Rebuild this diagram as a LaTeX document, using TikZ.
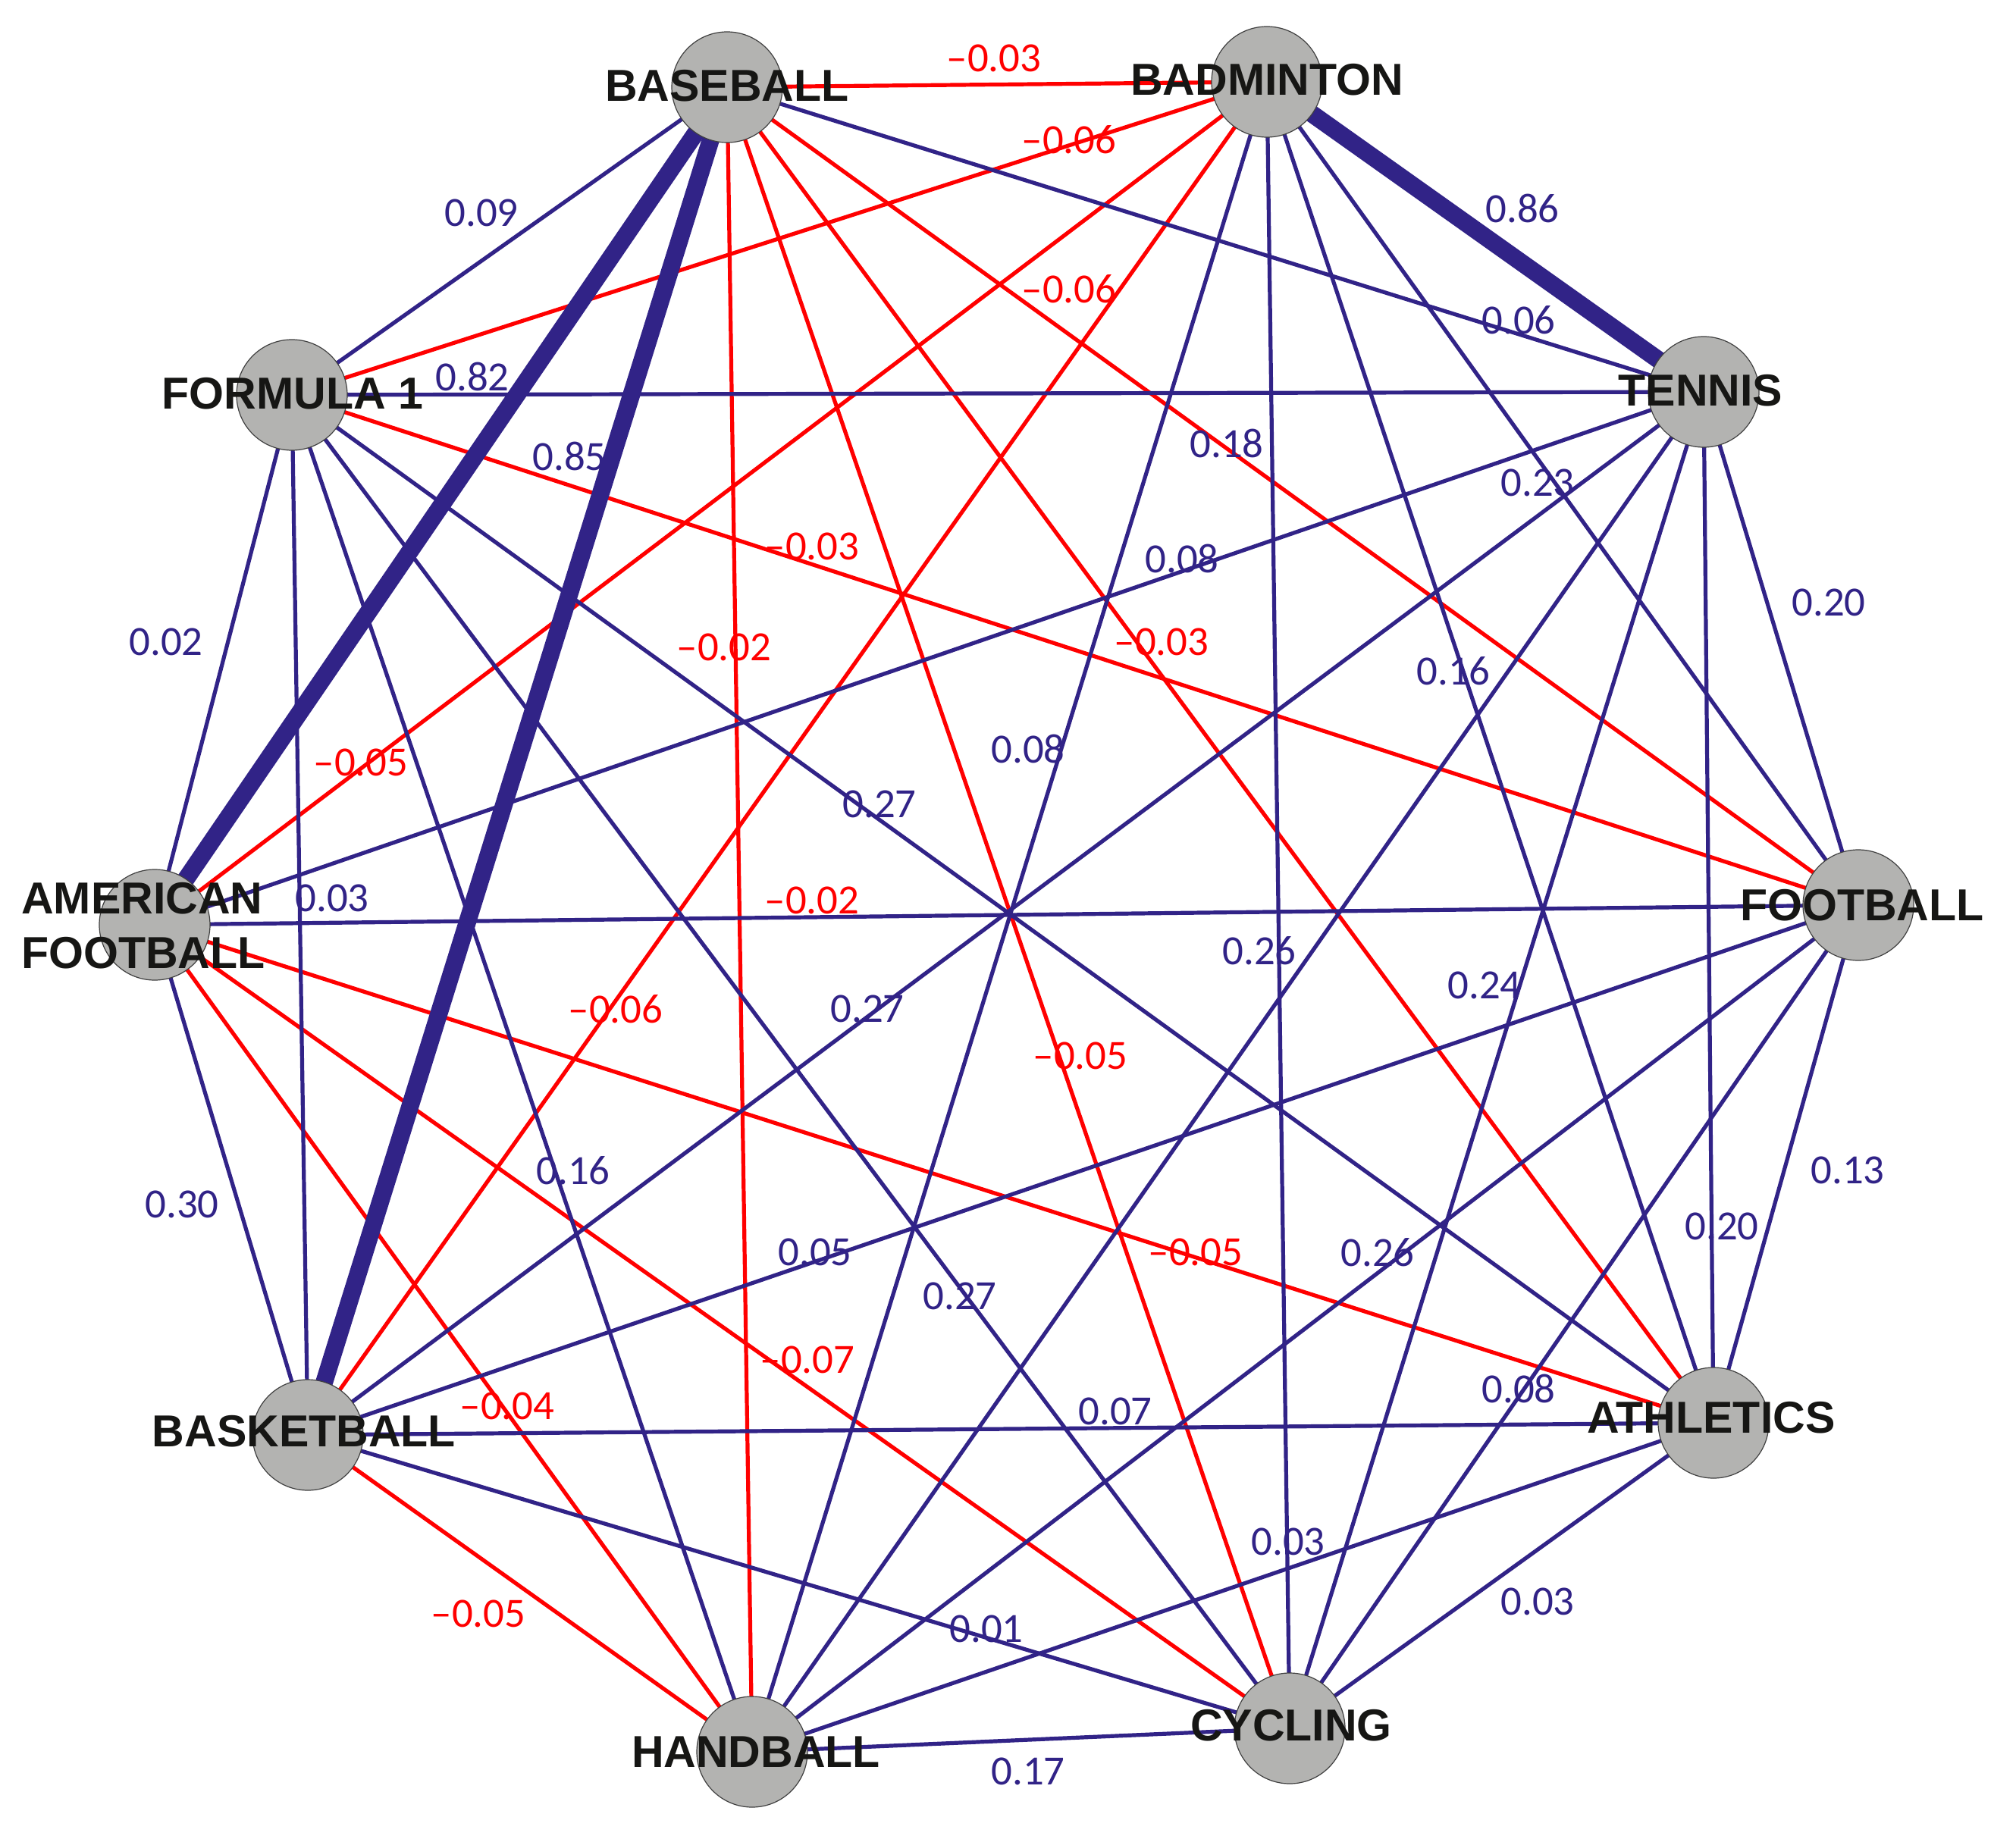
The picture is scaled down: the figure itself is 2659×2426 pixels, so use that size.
\documentclass[tikz,border=0pt]{standalone}
\usepackage{fontspec}
\newfontfamily\nodefont{Liberation Sans}
\newfontfamily\numfont{Carlito}
\definecolor{eblue}{RGB}{49,35,135}
\definecolor{ered}{RGB}{255,0,0}
\definecolor{ngray}{RGB}{179,179,177}
\definecolor{ntext}{RGB}{22,22,20}
\pgfdeclarelayer{bg}
\pgfsetlayers{bg,main}
\begin{document}
\begin{tikzpicture}[x=0.1mm,y=-0.1mm,
  sport/.style={circle,fill=ngray,draw=black!75,line width=0.12mm,minimum size=14.6mm,inner sep=0},
  sname/.style={font=\nodefont\bfseries\fontsize{16.8pt}{20.5pt}\selectfont,text=ntext,inner sep=0,align=left},
  posedge/.style={eblue,line width=0.52mm},
  negedge/.style={ered,line width=0.52mm},
  strongedge/.style={eblue,line width=2.3mm},
  plab/.style={font=\numfont\fontsize{15.6pt}{18pt}\selectfont,text=eblue,inner sep=0},
  nlab/.style={font=\numfont\fontsize{15.6pt}{18pt}\selectfont,text=ered,inner sep=0}]
\useasboundingbox (0,0) rectangle (2659,2426);

% sport circles
\node[sport] (BB) at (959,115) {};
\node[sport] (BD) at (1671,108) {};
\node[sport] (TE) at (2247,517) {};
\node[sport] (FB) at (2451,1194) {};
\node[sport] (AT) at (2260,1877) {};
\node[sport] (CY) at (1701,2280) {};
\node[sport] (HB) at (992,2311) {};
\node[sport] (BK) at (406,1893) {};
\node[sport] (AF) at (204,1220) {};
\node[sport] (F1) at (385,521) {};

\begin{pgfonlayer}{bg}
\fill[white] (0,0) rectangle (2659,2426);
% negative correlations
\draw[negedge] (BB.center) -- (BD.center);
\draw[negedge] (BB.center) -- (FB.center);
\draw[negedge] (BB.center) -- (AT.center);
\draw[negedge] (BB.center) -- (CY.center);
\draw[negedge] (BB.center) -- (HB.center);
\draw[negedge] (BD.center) -- (BK.center);
\draw[negedge] (BD.center) -- (AF.center);
\draw[negedge] (BD.center) -- (F1.center);
\draw[negedge] (FB.center) -- (F1.center);
\draw[negedge] (AT.center) -- (AF.center);
\draw[negedge] (CY.center) -- (AF.center);
\draw[negedge] (HB.center) -- (BK.center);
\draw[negedge] (HB.center) -- (AF.center);
% positive correlations
\draw[posedge] (BB.center) -- (TE.center);
\draw[posedge] (BB.center) -- (F1.center);
\draw[posedge] (BD.center) -- (FB.center);
\draw[posedge] (BD.center) -- (AT.center);
\draw[posedge] (BD.center) -- (CY.center);
\draw[posedge] (BD.center) -- (HB.center);
\draw[posedge] (TE.center) -- (FB.center);
\draw[posedge] (TE.center) -- (AT.center);
\draw[posedge] (TE.center) -- (CY.center);
\draw[posedge] (TE.center) -- (HB.center);
\draw[posedge] (TE.center) -- (BK.center);
\draw[posedge] (TE.center) -- (AF.center);
\draw[posedge] (TE.center) -- (F1.center);
\draw[posedge] (FB.center) -- (AT.center);
\draw[posedge] (FB.center) -- (CY.center);
\draw[posedge] (FB.center) -- (HB.center);
\draw[posedge] (FB.center) -- (BK.center);
\draw[posedge] (FB.center) -- (AF.center);
\draw[posedge] (AT.center) -- (CY.center);
\draw[posedge] (AT.center) -- (HB.center);
\draw[posedge] (AT.center) -- (BK.center);
\draw[posedge] (AT.center) -- (F1.center);
\draw[posedge] (CY.center) -- (HB.center);
\draw[posedge] (CY.center) -- (BK.center);
\draw[posedge] (CY.center) -- (F1.center);
\draw[posedge] (HB.center) -- (F1.center);
\draw[posedge] (BK.center) -- (AF.center);
\draw[posedge] (BK.center) -- (F1.center);
\draw[posedge] (AF.center) -- (F1.center);
% strong correlations
\draw[strongedge] (BB.center) -- (BK.center);
\draw[strongedge] (BB.center) -- (AF.center);
\draw[strongedge] (BD.center) -- (TE.center);
\end{pgfonlayer}

% sport names
\node[sname] (tBB) at (959,113) {BASEBALL};
\node[sname] (tBD) at (1671,105) {BADMINTON};
\node[sname] (tTE) at (2243,515) {TENNIS};
\node[sname] (tFB) at (2456,1194) {FOOTBALL};
\node[sname] (tAT) at (2257,1870) {ATHLETICS};
\node[sname] (tCY) at (1703,2276) {CYCLING};
\node[sname] (tHB) at (997,2311) {HANDBALL};
\node[sname] (tBK) at (401,1888) {BASKETBALL};
\node[sname] (tAF) at (189,1221) {AMERICAN\\FOOTBALL};
\node[sname] (tF1) at (386,519) {FORMULA 1};

% positive labels
\node[plab] (lBBF1) at (635,281) {0.09};
\node[plab] (lBDTE) at (2008,275) {0.86};
\node[plab] (lBBTE) at (2003,422) {0.06};
\node[plab] (lBBAF) at (623,497) {0.82};
\node[plab] (lBBBK) at (751,602) {0.85};
\node[plab] (lTEF1) at (1618,585) {0.18};
\node[plab] (lBDFB) at (2028,637) {0.23};
\node[plab] (lTEAF) at (1559,737) {0.08};
\node[plab] (lTEFB) at (2412,795) {0.20};
\node[plab] (lAFF1) at (219,847) {0.02};
\node[plab] (lBDAT) at (1917,885) {0.16};
\node[plab] (lBDHB) at (1356,988) {0.08};
\node[plab] (lATF1) at (1160,1061) {0.27};
\node[plab] (lBKF1) at (438,1185) {0.03};
\node[plab] (lTEHB) at (1661,1254) {0.26};
\node[plab] (lTECY) at (1958,1300) {0.24};
\node[plab] (lTEBK) at (1144,1331) {0.27};
\node[plab] (lBKAF) at (240,1589) {0.30};
\node[plab] (lHBF1) at (756,1544) {0.16};
\node[plab] (lFBAT) at (2437,1544) {0.13};
\node[plab] (lTEAT) at (2271,1618) {0.20};
\node[plab] (lFBBK) at (1075,1652) {0.05};
\node[plab] (lFBHB) at (1817,1652) {0.26};
\node[plab] (lCYF1) at (1266,1710) {0.27};
\node[plab] (lATBK) at (1471,1862) {0.07};
\node[plab] (lFBCY) at (2003,1832) {0.08};
\node[plab] (lBDCY) at (1699,2034) {0.03};
\node[plab] (lATCY) at (2028,2113) {0.03};
\node[plab] (lCYBK) at (1301,2149) {0.01};
\node[plab] (lCYHB) at (1356,2337) {0.17};

% negative labels
\node[nlab] (lBBBD) at (1311,77) {\textendash0.03};
\node[nlab] (lBDF1) at (1410,184) {\textendash0.06};
\node[nlab] (lBBFB) at (1410,381) {\textendash0.06};
\node[nlab] (lFBF1) at (1071,721) {\textendash0.03};
\node[nlab] (lBBHB) at (955,854) {\textendash0.02};
\node[nlab] (lBBAT) at (1532,847) {\textendash0.03};
\node[nlab] (lBDAF) at (476,1006) {\textendash0.05};
\node[nlab] (lAFFB) at (1071,1188) {\textendash0.02};
\node[nlab] (lBDBK) at (812,1331) {\textendash0.06};
\node[nlab] (lBBCY) at (1425,1393) {\textendash0.05};
\node[nlab] (lATAF) at (1577,1652) {\textendash0.05};
\node[nlab] (lCYAF) at (1065,1794) {\textendash0.07};
\node[nlab] (lHBAF) at (669,1855) {\textendash0.04};
\node[nlab] (lHBBK) at (631,2129) {\textendash0.05};
\end{tikzpicture}
\end{document}
